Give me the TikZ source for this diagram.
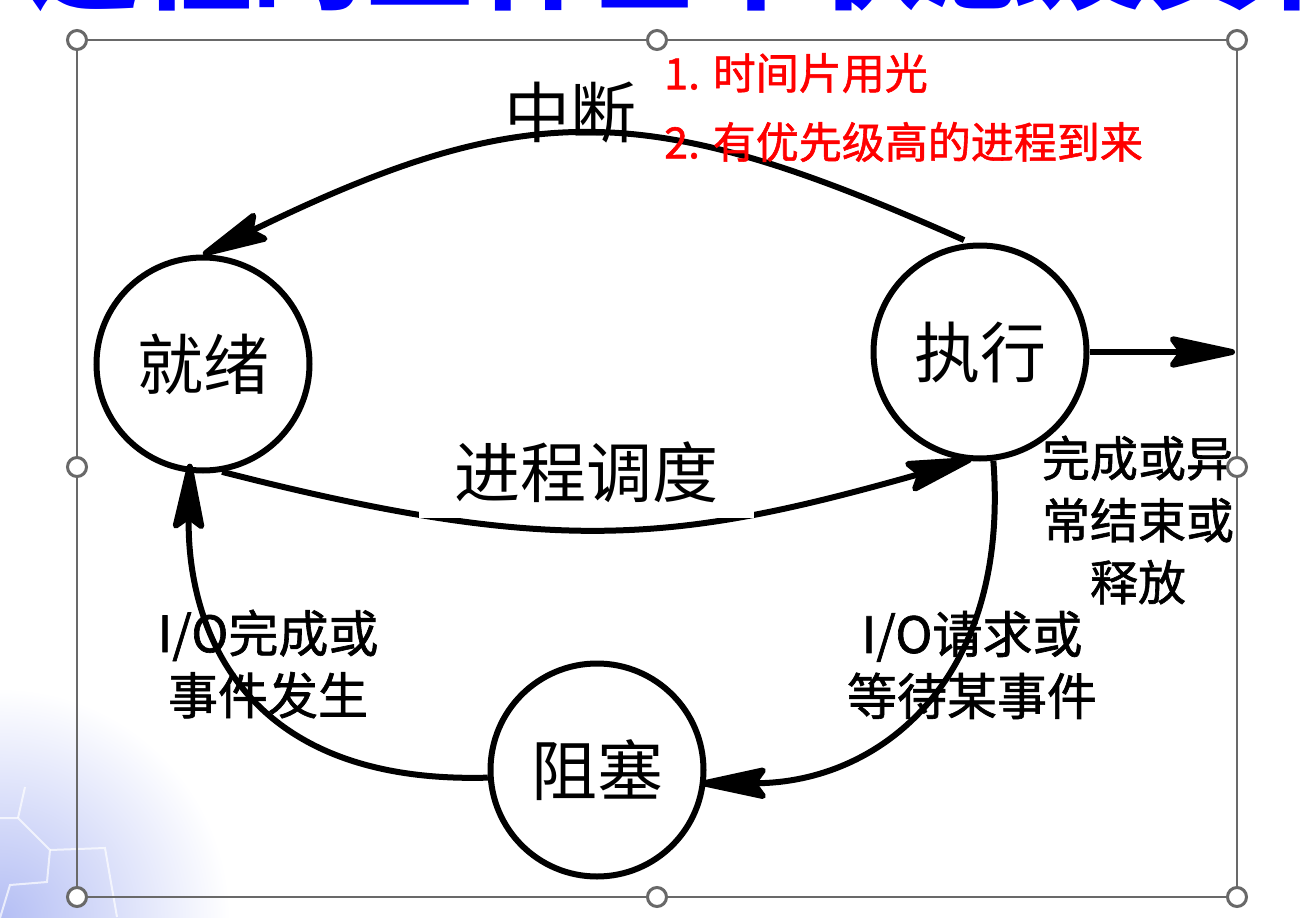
\documentclass[tikz,border=0pt]{standalone}
\usepackage{fontspec}
\setmainfont{Noto Sans CJK SC}
\newfontfamily\labelfont[FakeBold=1.3]{Noto Sans CJK SC}
\usetikzlibrary{arrows.meta}
\definecolor{handlegray}{RGB}{105,105,105}
\definecolor{hexblue}{RGB}{180,190,244}
\definecolor{titleblue}{RGB}{0,0,255}
\definecolor{notered}{RGB}{255,0,0}
\begin{document}
\begin{tikzpicture}[x=1pt,y=-1pt,
  state/.style={circle, draw=black, line width=6pt, minimum size=213pt, inner sep=0pt,
    font=\fontsize{66}{66}\selectfont},
  flow/.style={line width=6pt, -{Stealth[length=80pt,width=34pt,inset=12pt,round]}},
  lbl/.style={font=\labelfont\fontsize{50}{62}\selectfont, align=center, inner sep=0pt},
  biglbl/.style={font=\fontsize{66}{66}\selectfont, inner sep=0pt},
  redlbl/.style={text=notered, font=\labelfont\fontsize{43}{43}\selectfont, anchor=west, inner sep=0pt},
  handle/.style={circle, draw=handlegray, fill=white, line width=3pt, minimum size=19pt, inner sep=0pt},
  frame/.style={draw=handlegray, line width=2.5pt},
  hexline/.style={draw=white, line width=2pt, opacity=0.7}]
\useasboundingbox (0,0) rectangle (1310,918);
\clip (0,0) rectangle (1310,918);
\fill[white] (0,0) rectangle (1310,918);
% background decoration (bottom left)
\shade[inner color=hexblue, outer color=white] (0,918) circle[radius=230pt];
\draw[hexline] (0,818) -- (18,818) -- (50,850) -- (47,882) -- (10,885) -- (0,918);
\draw[hexline] (18,818) -- (25,787);
\draw[hexline] (50,850) -- (105,848) -- (117,917);
% title, mostly cut off
\node[anchor=base west, inner sep=0pt, text=titleblue, font=\fontsize{112}{112}\selectfont\bfseries] (title) at (28,0) {进程的三种基本状态及其转换};
% states
\node[state] (ready) at (203,364) {就绪};
\node[state] (exec) at (980,352) {执行};
\node[state] (blocked) at (597,770) {阻塞};
\coordinate (out) at (1235,352);
% transitions
\draw[flow, shorten <=7pt] (exec.95) .. controls (650,100) and (530,95) .. (ready.90);
\draw[flow, shorten >=-5pt] (ready.-80) .. controls (555,557) and (676,543) .. (exec.-97);
\draw[flow] (exec.east) -- (out);
\draw[flow, shorten >=-5pt] (exec.-83) .. controls (1010,680) and (880,783) .. (blocked.-7);
\draw[flow, shorten >=-9pt] (blocked.184) .. controls (220,785) and (187,600) .. (ready.-97);
% labels
\node[biglbl] (lint) at (570,113) {中断};
\node[biglbl, fill=white, minimum width=335pt, minimum height=92pt] (lsched) at (586,472) {进程调度};
\node[redlbl] (r1) at (664,73) {1. 时间片用光};
\node[redlbl] (r2) at (664,142) {2. 有优先级高的进程到来};
\node[lbl, font=\labelfont\fontsize{48}{62}\selectfont] (lend) at (1138,520) {完成或异\\常结束或\\释放};
\node[lbl] (lio) at (972,665) {I/O请求或\\等待某事件};
\node[lbl] (ldone) at (268,664) {I/O完成或\\事件发生};
% selection frame
\draw[frame] (77,40) rectangle (1237,897);
\node[handle] (h1) at (77,40) {};
\node[handle] (h2) at (657,40) {};
\node[handle] (h3) at (1237,40) {};
\node[handle] (h4) at (77,467) {};
\node[handle] (h5) at (1237,467) {};
\node[handle] (h6) at (77,897) {};
\node[handle] (h7) at (657,897) {};
\node[handle] (h8) at (1237,897) {};
\end{tikzpicture}
\end{document}
